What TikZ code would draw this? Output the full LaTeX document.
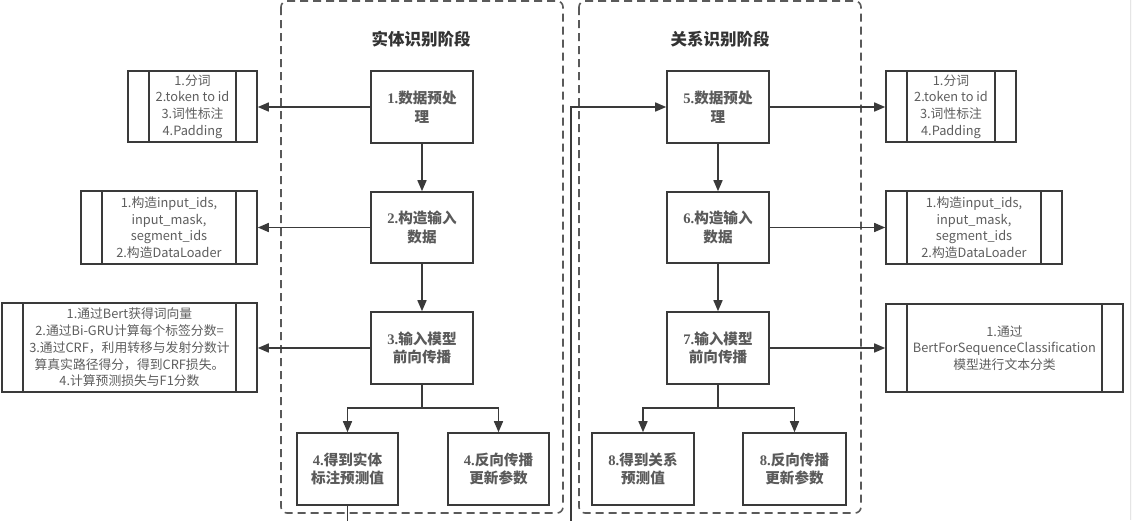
\documentclass[tikz,border=0pt]{standalone}
\usepackage{fontspec}
\usetikzlibrary{arrows.meta}
\newfontfamily\cjk{Noto Sans CJK SC}
\newfontfamily\ser{Liberation Serif}
\definecolor{lc}{HTML}{3A3A3A}
\definecolor{dc}{HTML}{5A5A5A}
\definecolor{tc}{HTML}{5E5E5E}
\definecolor{nc}{HTML}{5A5A5A}
\definecolor{ttc}{HTML}{333333}
\newcommand{\pan}{\cjk\fontsize{12.8}{16.7}\selectfont}
\newcommand{\nfont}{\cjk\bfseries\fontsize{14.6}{18.5}\selectfont}
\newcommand{\dg}[1]{{\ser\bfseries #1}}
\begin{document}
\begin{tikzpicture}[x=1pt,y=-1pt,
  stepbox/.style={draw=lc,line width=1.6pt,text=nc,align=center,font=\nfont,inner sep=0pt},
  proc/.style={draw=lc,line width=1.6pt,text=tc,align=center,font=\pan,inner sep=0pt,
    path picture={\draw[lc,line width=1.6pt]
      ([xshift=21pt]path picture bounding box.north west) -- ([xshift=21pt]path picture bounding box.south west)
      ([xshift=-21pt]path picture bounding box.north east) -- ([xshift=-21pt]path picture bounding box.south east);}},
  phase/.style={draw=dc,line width=1.6pt,dash pattern=on 8pt off 5pt,rounded corners=6pt},
  arr/.style={draw=lc,line width=1.5pt,-{Triangle[length=11pt,width=9pt]}},
  title/.style={text=ttc,font=\cjk\bfseries\fontsize{16.5}{20}\selectfont,inner sep=0pt}]
\useasboundingbox (0,0) rectangle (1132,520);
\fill[white] (0,0) rectangle (1132,520);
\fill[black!2] (1130,0) rectangle (1132,520);
\draw[black!10,line width=0.8pt] (1130,0) -- (1130,520);
% phase boxes
\draw[phase] (281,1) rectangle (563,513);
\draw[phase] (579,1) rectangle (861,513);
\node[title] (t1) at (421,39) {实体识别阶段};
\node[title] (t2) at (720,39) {关系识别阶段};
% steps
\node[stepbox,minimum width=102pt,minimum height=72pt] (n1) at (422,107) {\dg{1.}数据预处\\理};
\node[stepbox,minimum width=102pt,minimum height=71pt] (n2) at (422,227.5) {\dg{2.}构造输入\\数据};
\node[stepbox,minimum width=102pt,minimum height=72pt] (n3) at (422,348) {\dg{3.}输入模型\\前向传播};
\node[stepbox,minimum width=101pt,minimum height=72pt] (n4a) at (347.5,469) {\dg{4.}得到实体\\标注预测值};
\node[stepbox,minimum width=101pt,minimum height=72pt] (n4b) at (498.5,469) {\dg{4.}反向传播\\更新参数};
\node[stepbox,minimum width=102pt,minimum height=72pt] (n5) at (718,107) {\dg{5.}数据预处\\理};
\node[stepbox,minimum width=102pt,minimum height=71pt] (n6) at (718,227.5) {\dg{6.}构造输入\\数据};
\node[stepbox,minimum width=102pt,minimum height=72pt] (n7) at (718,348) {\dg{7.}输入模型\\前向传播};
\node[stepbox,minimum width=102pt,minimum height=72pt] (n8a) at (643,469) {\dg{8.}得到关系\\预测值};
\node[stepbox,minimum width=103pt,minimum height=72pt] (n8b) at (794.5,469) {\dg{8.}反向传播\\更新参数};
% panels
\node[proc,minimum width=129pt,minimum height=71pt] (p1) at (192.5,106.5) {1.分词\\2.token to id\\3.词性标注\\4.Padding};
\node[proc,minimum width=176pt,minimum height=73pt] (p2) at (169,227.5) {1.构造input\_ids,\\input\_mask,\\segment\_ids\\2.构造DataLoader};
\node[proc,minimum width=255pt,minimum height=89pt] (p3) at (129.5,347.5) {1.通过Bert获得词向量\\2.通过Bi-GRU计算每个标签分数=\\3.通过CRF，利用转移与发射分数计\\算真实路径得分，得到CRF损失。\\4.计算预测损失与F1分数};
\node[proc,minimum width=130pt,minimum height=71pt] (q1) at (951,106.5) {1.分词\\2.token to id\\3.词性标注\\4.Padding};
\node[proc,minimum width=176pt,minimum height=73pt] (q2) at (974,227.5) {1.构造input\_ids,\\input\_mask,\\segment\_ids\\2.构造DataLoader};
\node[proc,minimum width=237pt,minimum height=88pt] (q3) at (1004.5,348) {1.通过\\BertForSequenceClassification\\模型进行文本分类};
% connectors
\draw[arr] (n1) -- (n2);
\draw[arr] (n2) -- (n3);
\draw[arr] (n5) -- (n6);
\draw[arr] (n6) -- (n7);
\draw[arr] (n3.south) -- ++(0,23) -| (n4a.north);
\draw[arr] (n3.south) -- ++(0,23) -| (n4b.north);
\draw[arr] (n7.south) -- ++(0,23) -| (n8a.north);
\draw[arr] (n7.south) -- ++(0,23) -| (n8b.north);
\draw[arr] (n1.west) -- (n1.west -| p1.east);
\draw[arr] (n2.west) -- (n2.west -| p2.east);
\draw[arr] (n3.west) -- (n3.west -| p3.east);
\draw[arr] (n5.east) -- (n5.east -| q1.west);
\draw[arr] (n6.east) -- (n6.east -| q2.west);
\draw[arr] (n7.east) -- (n7.east -| q3.west);
\coordinate (turn) at (571,535);
\draw[arr] (n4a.south) |- (turn) |- (n5.west);
\end{tikzpicture}
\end{document}
